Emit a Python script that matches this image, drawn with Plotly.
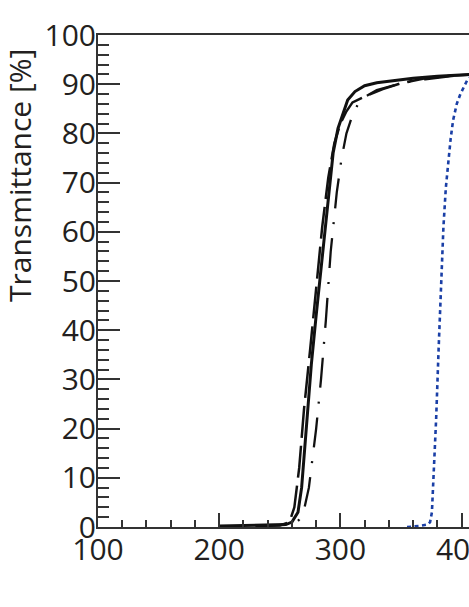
import plotly.graph_objects as go

# ---- data (wavelength [nm], transmittance [%]) ----
solid_x = [200, 220, 240, 255, 260, 265, 268, 272, 276, 280, 285, 290, 294, 298, 302, 306, 312, 320, 330, 345, 360, 380, 400, 410]
solid_y = [0.2, 0.3, 0.3, 0.5, 1.0, 3, 8, 20, 33, 43, 55, 66, 76, 81, 84, 86.8, 88.5, 89.7, 90.3, 90.8, 91.2, 91.6, 91.9, 92]

longdash_x = [230, 250, 258, 262, 266, 270, 275, 280, 285, 290, 295, 300, 305, 310, 320, 335, 350, 370, 390, 410]
longdash_y = [0.2, 0.3, 1, 4, 12, 24, 36, 49, 61, 71, 78, 82, 84.5, 86.3, 87.5, 89, 90.2, 91.2, 91.7, 92]

dashdot_x = [230, 250, 262, 266, 270, 274, 277, 280, 284, 288, 292, 297, 301, 305, 309, 316, 330, 350, 370, 390, 410]
dashdot_y = [0.2, 0.3, 0.5, 1.5, 3.5, 8, 14, 20, 30, 42, 56, 68, 75, 80, 83, 86.8, 88.8, 90.2, 91.0, 91.6, 92]

blue_x = [355, 365, 372, 374, 375.5, 377, 379, 381, 383, 385, 387, 389, 391, 393, 396, 399, 405, 410]
blue_y = [0, 0.2, 0.5, 1, 3, 10, 22, 36, 50, 61, 69, 74.6, 79, 82.7, 86, 88, 91, 92]

x_ticks = [100, 200, 300, 400]
y_ticks = [0, 10, 20, 30, 40, 50, 60, 70, 80, 90, 100]

INK = "#231f20"
FONT = "Open Sans"

fig = go.Figure()
fig.add_trace(go.Scatter(x=dashdot_x, y=dashdot_y, mode="lines",
                         line=dict(color="#111", width=2.3, dash="30px,14px,2px,14px"), showlegend=False))
fig.add_trace(go.Scatter(x=longdash_x, y=longdash_y, mode="lines",
                         line=dict(color="#111", width=2.5, dash="32px,8px"), showlegend=False))
fig.add_trace(go.Scatter(x=solid_x, y=solid_y, mode="lines",
                         line=dict(color="#111", width=3), showlegend=False))
fig.add_trace(go.Scatter(x=blue_x, y=blue_y, mode="lines",
                         line=dict(color="#1a3fa6", width=2.6, dash="4px,3.5px"), showlegend=False))

fig.update_xaxes(range=[100, 406.1], tickvals=x_ticks, ticktext=[str(v) for v in x_ticks],
                 ticks="inside", ticklen=14, tickwidth=1.6, tickcolor="#333",
                 minor=dict(ticks="inside", ticklen=7, tickwidth=1.5, tickcolor="#333", dtick=20, tick0=100),
                 showline=True, linecolor="#333", linewidth=2, mirror=True, automargin=False,
                 showgrid=False, zeroline=False, ticklabeloverflow="allow", ticklabelstandoff=-5,
                 tickfont=dict(family=FONT, size=30, color=INK))
fig.update_yaxes(range=[0, 100], tickvals=y_ticks, ticktext=[str(v) for v in y_ticks],
                 ticks="inside", ticklen=22, tickwidth=1.6, tickcolor="#333",
                 minor=dict(ticks="inside", ticklen=11, tickwidth=1.5, tickcolor="#333", dtick=2, tick0=0),
                 showline=True, linecolor="#333", linewidth=2, automargin=False,
                 showgrid=False, zeroline=False, ticklabelstandoff=-6,
                 tickfont=dict(family=FONT, size=30, color=INK))

L, T, PW, PH = 98, 35, 371, 492
fig.add_annotation(text="Transmittance [%]", textangle=-90, xref="paper", yref="paper",
                   x=(19 - L) / PW, y=(T + PH - 176) / PH, xanchor="center", yanchor="middle",
                   showarrow=False, font=dict(family=FONT, size=30, color=INK))

fig.update_layout(width=469, height=607, margin=dict(l=L, r=0, t=T, b=80, autoexpand=False),
                  paper_bgcolor="white", plot_bgcolor="white")

fig.write_html("out.html", config={"displayModeBar": False},
               post_script="document.body.style.margin='0';document.body.style.overflow='hidden';"
                           "document.documentElement.style.overflow='hidden';")
